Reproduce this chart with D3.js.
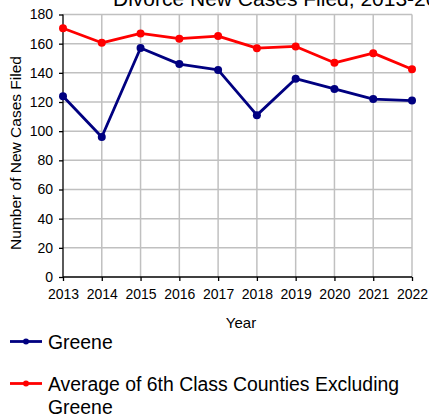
<!DOCTYPE html>
<html><head><meta charset="utf-8">
<script src="https://cdn.jsdelivr.net/npm/d3@7"></script>
<style>body{margin:0;background:#fff;}svg{display:block;font-family:"Liberation Sans",Arial,sans-serif;}</style>
</head><body>
<svg id="c" width="429" height="419"></svg>
<script>
const years = [2013,2014,2015,2016,2017,2018,2019,2020,2021,2022];
const greene = [124,96,157,146,142,111,136,129,122,121];
const average = [170.6,160.6,167,163.4,165.2,156.9,158.1,146.9,153.5,142.4];
const yTicks = [0,20,40,60,80,100,120,140,160,180];
const seriesNames = ["Greene","Average of 6th Class Counties Excluding Greene"];
const colors = ["#000080","#ff0000"];

const svg = d3.select("#c");
const x = d3.scalePoint().domain(years).range([63,412]);
const y = d3.scaleLinear().domain([0,180]).range([277,14.5]);

// grid
svg.append("g").selectAll("line.h").data(yTicks.slice(1)).join("line")
  .attr("x1",63).attr("x2",412).attr("y1",d=>y(d)).attr("y2",d=>y(d))
  .attr("stroke","#c0c0c0").attr("stroke-width",1.5);
svg.append("g").selectAll("line.v").data(years.slice(1)).join("line")
  .attr("x1",d=>x(d)).attr("x2",d=>x(d)).attr("y1",y(180)).attr("y2",y(0))
  .attr("stroke","#c0c0c0").attr("stroke-width",1.5);

// axes
const yAxis = svg.append("g").attr("transform","translate(63,0)")
  .call(d3.axisLeft(y).tickValues(yTicks).tickSize(4).tickPadding(6));
const xAxis = svg.append("g").attr("transform","translate(0,277)")
  .call(d3.axisBottom(x).tickValues(years).tickSize(4).tickPadding(8).tickFormat(d3.format("d")));
[yAxis,xAxis].forEach(a=>{
  a.selectAll("path").attr("stroke","#000").attr("stroke-width",1.3);
  a.selectAll("line").attr("stroke","#000").attr("stroke-width",1.3);
  a.selectAll("text").attr("font-size",14).attr("fill","#000").attr("font-family","Liberation Sans, Arial, sans-serif");
});
yAxis.select(".domain").attr("d","M0,277V14.5");
xAxis.select(".domain").attr("d","M63,0H412");

// lines
[greene,average].forEach((vals,i)=>{
  const data = years.map((yr,j)=>({yr,v:vals[j]}));
  svg.append("path").datum(data)
    .attr("fill","none").attr("stroke",colors[i]).attr("stroke-width",2.8)
    .attr("stroke-linejoin","round")
    .attr("d",d3.line().x(d=>x(d.yr)).y(d=>y(d.v)));
  svg.append("g").selectAll("circle").data(data).join("circle")
    .attr("cx",d=>x(d.yr)).attr("cy",d=>y(d.v)).attr("r",4).attr("fill",colors[i]);
});

// title (cut at the top and right edge, as in the reference)
svg.append("text").attr("x",113).attr("y",5.5).attr("font-size",21).attr("fill","#000")
  .text("Divorce New Cases Filed, 2013-2022");

// axis titles
svg.append("text").attr("x",241).attr("y",328).attr("text-anchor","middle").attr("font-size",15).text("Year");
svg.append("text").attr("transform","translate(21,153) rotate(-90)").attr("text-anchor","middle")
  .attr("font-size",15.5).text("Number of New Cases Filed");

// legend
const leg = [{y:341.5,lines:["Greene"]},{y:383.5,lines:["Average of 6th Class Counties Excluding","Greene"]}];
leg.forEach((l,i)=>{
  svg.append("line").attr("x1",10).attr("x2",42).attr("y1",l.y).attr("y2",l.y)
    .attr("stroke",colors[i]).attr("stroke-width",2.8);
  svg.append("circle").attr("cx",26).attr("cy",l.y).attr("r",3).attr("fill",colors[i]);
  const t = svg.append("text").attr("x",48).attr("y",l.y+7).attr("font-size",19.4).attr("fill","#000");
  l.lines.forEach((s,k)=>t.append("tspan").attr("x",48).attr("dy",k===0?0:23.5).text(s));
});
</script>
</body></html>
